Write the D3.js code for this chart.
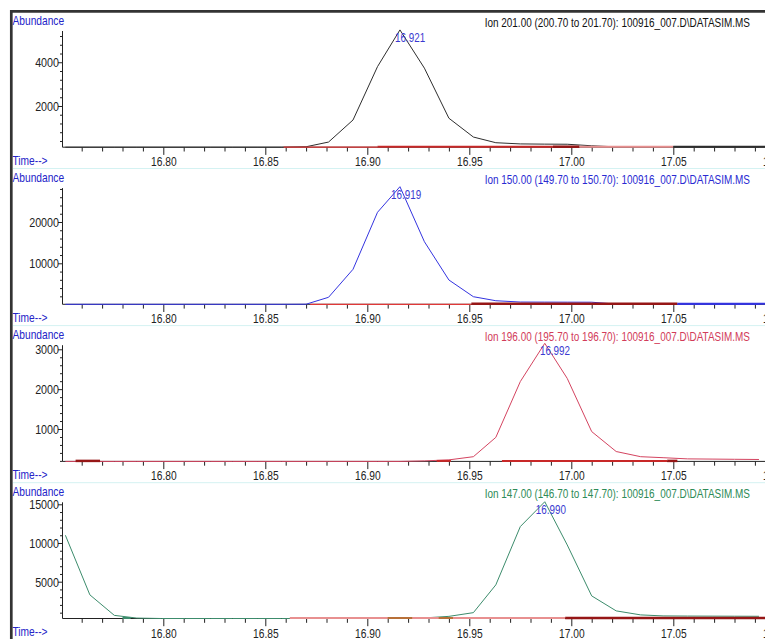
<!DOCTYPE html>
<html><head><meta charset="utf-8">
<script src="https://cdn.jsdelivr.net/npm/d3@7"></script>
<style>body{margin:0;background:#fff;} svg{display:block;}</style>
</head><body>
<script>
// ---------- DATA ----------
const scanTimes = [16.752,16.764,16.776,16.787,16.799,16.811,16.823,16.834,16.846,16.858,
                   16.870,16.881,16.893,16.905,16.916,16.928,16.940,16.952,16.963,16.975,
                   16.987,16.998,17.010,17.022,17.034,17.045,17.057,17.069,17.080,17.092];
const xTickLabels = ["16.80","16.85","16.90","16.95","17.00","17.05","17.10"];

const ion201 = [115,115,115,115,115,115,115,115,115,115,
                135,350,1360,3800,5480,3730,1440,580,320,265,
                255,250,180,130,130,130,130,130,130,130];
const ion150 = [73,73,73,73,73,73,73,73,73,73,
                100,1770,8550,22350,28550,15230,5960,1910,940,620,
                600,590,580,120,73,73,73,73,73,73];
const ion196 = [187,187,187,187,187,187,187,187,187,187,
                187,187,187,187,187,200,225,305,790,2190,
                3150,2270,935,435,305,280,250,245,240,235];
const ion147 = [11000,3300,650,300,245,245,245,245,245,245,
                245,245,245,245,245,320,520,1000,4590,12120,
                15330,9750,3165,1230,710,580,560,550,540,530];

const yExtent201 = [115, 5430];
const yExtent150 = [73, 28210];
const yExtent196 = [187, 3103];
const yExtent147 = [245, 15258];

const yTicks201 = [2000, 4000];
const yTicks150 = [10000, 20000];
const yTicks196 = [1000, 2000, 3000];
const yTicks147 = [5000, 10000, 15000];

const header201 = "Ion 201.00 (200.70 to 201.70): 100916_007.D\\DATASIM.MS";
const header150 = "Ion 150.00 (149.70 to 150.70): 100916_007.D\\DATASIM.MS";
const header196 = "Ion 196.00 (195.70 to 196.70): 100916_007.D\\DATASIM.MS";
const header147 = "Ion 147.00 (146.70 to 147.70): 100916_007.D\\DATASIM.MS";

const peak201 = "16.921", peak150 = "16.919", peak196 = "16.992", peak147 = "16.990";

// integration baseline marks: [start time, end time, kind]
const marks201 = [[16.859,16.905,"thin"],[16.905,16.991,"base"],[16.991,17.004,"mark"],[17.004,17.050,"pink"],[17.050,17.10,"trace"]];
const marks150 = [[16.872,16.951,"thin"],[16.951,17.052,"mark"],[17.052,17.10,"trace"]];
const marks196 = [[16.757,16.769,"mark"],[16.934,16.941,"base"],[16.966,17.047,"base"],[17.047,17.052,"mark"]];
const marks147 = [[16.780,16.784,"trace"],[16.862,16.997,"pink"],[16.910,16.922,"brown"],[16.935,16.942,"brown"],[16.997,17.10,"mark"]];

// ---------- LAYOUT ----------
const W = 765, H = 639;
const STEP = 157.1, TOP = 31, BASE = 147.2, AXX = 62.5;
const FS = "13px";
const COND = 0.785;

const svg = d3.select("body").append("svg").attr("width", W).attr("height", H);
const x = d3.scaleLinear().domain([16.75, 17.10]).range([61.3, 775.3]);

const panels = [
  {v: ion201, ext: yExtent201, ticks: yTicks201, head: header201, peak: peak201, marks: marks201, color: "#2e2e2e", headColor: "#111111"},
  {v: ion150, ext: yExtent150, ticks: yTicks150, head: header150, peak: peak150, marks: marks150, color: "#3434e0", headColor: "#2a2ad2"},
  {v: ion196, ext: yExtent196, ticks: yTicks196, head: header196, peak: peak196, marks: marks196, color: "#d44460", headColor: "#d23c5a"},
  {v: ion147, ext: yExtent147, ticks: yTicks147, head: header147, peak: peak147, marks: marks147, color: "#3c8c6c", headColor: "#2e8b57"}
];

const markStyle = {
  thin:  {c: "#e03838", w: 1.3, dy: 0},
  base:  {c: "#c82828", w: 2,   dy: -0.5},
  mark:  {c: "#961616", w: 2.5, dy: -0.5},
  pink:  {c: "#e89090", w: 2,   dy: -0.5},
  brown: {c: "#b87038", w: 2,   dy: -0.5},
  trace: {c: null,      w: 2,   dy: -0.5}
};

const FONT = "'Liberation Sans', Arial, sans-serif";
function condense(sel, f) {
  sel.each(function() {
    const L = this.getComputedTextLength();
    if (L > 0) { this.setAttribute("textLength", L * f); this.setAttribute("lengthAdjust", "spacingAndGlyphs"); }
  });
}

const majorX = xTickLabels.map(Number);
const minorX = d3.range(16.76, 17.095, 0.01).map(d => +d.toFixed(2)).filter(d => !majorX.some(m => Math.abs(m - d) < 1e-6));

panels.forEach((p, i) => {
  const oy = i * STEP;
  const y = d3.scaleLinear().domain(p.ext).range([oy + BASE, oy + TOP]);
  const g = svg.append("g");

  // separator
  g.append("line").attr("x1", 13).attr("x2", W).attr("y1", oy + 168.5).attr("y2", oy + 168.5)
    .attr("stroke", "#d4f2f2").attr("stroke-width", 1);

  // x axis line
  g.append("line").attr("x1", AXX).attr("x2", W).attr("y1", oy + BASE).attr("y2", oy + BASE)
    .attr("stroke", "#222").attr("stroke-width", 1);

  // x minor ticks
  const gxm = g.append("g").attr("transform", `translate(0,${oy + BASE})`)
    .call(d3.axisBottom(x).tickValues(minorX).tickSize(4.3).tickFormat(""));
  gxm.select(".domain").remove();
  gxm.attr("color", "#222");

  // x major ticks
  const gx = g.append("g").attr("transform", `translate(0,${oy + BASE})`)
    .call(d3.axisBottom(x).tickValues(majorX).tickSize(7.7).tickFormat((d, k) => xTickLabels[k]));
  gx.select(".domain").remove();
  gx.attr("color", "#222");
  gx.selectAll("text").attr("y", 19).attr("dy", 0).attr("fill", "#222")
    .style("font-family", FONT).style("font-size", FS);
  gx.selectAll("text").call(condense, COND);

  // y axis
  const step = p.ticks[1] - p.ticks[0];
  const minorY = d3.range(step / 5, p.ext[1], step / 5)
    .filter(d => d > p.ext[0] && !p.ticks.some(m => Math.abs(m - d) < 1e-6));
  const gym = g.append("g").attr("transform", `translate(${AXX},0)`)
    .call(d3.axisLeft(y).tickValues(minorY).tickSize(2.5).tickFormat(""));
  gym.select(".domain").remove();
  gym.attr("color", "#222");
  const gy = g.append("g").attr("transform", `translate(${AXX},0)`)
    .call(d3.axisLeft(y).tickValues(p.ticks).tickSize(4.5).tickPadding(0).tickFormat(d3.format("d")));
  gy.select(".domain").remove();
  gy.attr("color", "#222");
  gy.selectAll("text").attr("x", -3.5).attr("dy", "0.36em").attr("fill", "#222")
    .style("font-family", FONT).style("font-size", FS);
  gy.selectAll("text").call(condense, COND + 0.04);
  g.append("line").attr("x1", AXX).attr("x2", AXX).attr("y1", oy + TOP).attr("y2", oy + BASE)
    .attr("stroke", "#222").attr("stroke-width", 1);

  // trace
  const line = d3.line().x((d, k) => x(scanTimes[k])).y(d => y(d));
  g.append("path").datum(p.v).attr("d", line).attr("fill", "none")
    .attr("stroke", p.color).attr("stroke-width", 1).attr("stroke-linejoin", "round");

  // integration marks
  p.marks.forEach(m => {
    const s = markStyle[m[2]];
    g.append("line")
      .attr("x1", Math.max(AXX, x(m[0]))).attr("x2", Math.min(W, x(m[1])))
      .attr("y1", oy + BASE + s.dy).attr("y2", oy + BASE + s.dy)
      .attr("stroke", s.c || p.color).attr("stroke-width", s.w);
  });

  // texts
  const t1 = g.append("text").attr("x", 12.5).attr("y", oy + 25).text("Abundance")
    .attr("fill", "#2424c8").style("font-family", FONT).style("font-size", FS);
  t1.call(condense, COND);
  const t2 = g.append("text").attr("x", 12.5).attr("y", oy + 165).text("Time-->")
    .attr("fill", "#2424c8").style("font-family", FONT).style("font-size", FS);
  t2.call(condense, COND);
  const th = g.append("text").attr("x", 750).attr("y", oy + 26.8).attr("text-anchor", "end").text(p.head)
    .attr("fill", p.headColor).style("font-family", FONT).style("font-size", FS);
  th.call(condense, 0.766);
  const tp = g.append("text").attr("x", x(+p.peak)).attr("y", y(d3.max(p.v)) + 12)
    .attr("text-anchor", "middle").text(p.peak)
    .attr("fill", "#3a3ad0").style("font-family", FONT).style("font-size", FS);
  tp.call(condense, 0.757);
});

// frame
svg.append("line").attr("x1", 10).attr("x2", W).attr("y1", 11.3).attr("y2", 11.3).attr("stroke", "#333").attr("stroke-width", 2.7);
svg.append("line").attr("x1", 11.3).attr("x2", 11.3).attr("y1", 10).attr("y2", H).attr("stroke", "#333").attr("stroke-width", 2.7);
</script>
</body></html>
